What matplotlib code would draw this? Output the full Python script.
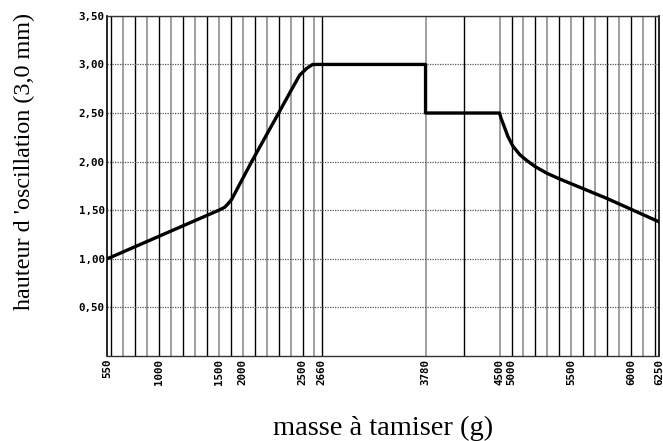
import numpy as np
import matplotlib
matplotlib.use("Agg")
import matplotlib.pyplot as plt

# --- DATA ---
# gram values printed under the x axis
tick_grams = [550, 1000, 1500, 2000, 2500, 2660, 3780, 4500, 5000, 5500, 6000, 6250]
# oscillation height (mm) against mass to sieve (g)
mass_g = [550, 1500, 1620, 1680, 1765, 2074, 2300, 2412, 2476, 2535, 2585,
          3780, 3780, 4500, 4555, 4680, 4845, 5011, 5070, 5129, 5196, 5296, 5405,
          5800, 6250]
height_mm = [1.00, 1.50, 1.53, 1.56, 1.61, 2.00, 2.50, 2.75, 2.89, 2.96, 3.00,
             3.00, 2.50, 2.50, 2.45, 2.37, 2.26, 2.16, 2.07, 2.01, 1.95, 1.88, 1.82,
             1.62, 1.38]
y_ticks = [0.5, 1.0, 1.5, 2.0, 2.5, 3.0, 3.5]

# --- AXIS LAYOUT ---
# the printed scale is not linear in grams: each labelled mass sits at its
# own place on the sheet (units = grid spacing)
tick_place = [-0.34, 4.0, 9.0, 11.0, 16.0, 17.6, 26.3, 32.5, 33.5, 38.5, 43.5, 45.85]
grid_place = list(range(0, 18)) + [17.6, 26.3, 29.5] + list(np.arange(32.5, 46.0, 1.0))


def to_sheet(g):
    return np.interp(g, tick_grams, tick_place)


def to_grams(p):
    return np.interp(p, tick_place, tick_grams)


fig = plt.figure(figsize=(6.63, 4.41), dpi=100)
ax = fig.add_axes([0.162, 0.193, 0.832, 0.771])
ax.set_xscale('function', functions=(to_sheet, to_grams))
ax.set_xlim(550, 6250)
ax.set_ylim(0, 3.5)

# vertical grid, alternating black and grey strokes
for i, p in enumerate(grid_place):
    if i % 2 == 0:
        ax.axvline(to_grams(p), color='black', linewidth=1.0, zorder=1)
    else:
        ax.axvline(to_grams(p), color='#999999', linewidth=1.3, zorder=1)

# dotted horizontal grid
for v in y_ticks:
    ax.axhline(v, color='#555555', linewidth=0.9, linestyle=(0, (1, 1)), zorder=1)

ax.plot(mass_g, height_mm, color='black', linewidth=2.4,
        solid_joinstyle='round', solid_capstyle='round', zorder=3)

ax.set_xticks(tick_grams)
ax.set_xticklabels([str(g) for g in tick_grams], rotation=90,
                   family='DejaVu Sans Mono', fontweight='bold', fontsize=7.8)
ax.set_yticks(y_ticks)
ax.set_yticklabels([f"{v:.2f}".replace('.', ',') for v in y_ticks],
                   family='DejaVu Sans Mono', fontweight='bold', fontsize=7.8)
ax.tick_params(length=0, pad=2)
ax.xaxis.set_minor_locator(plt.NullLocator())

for side in ['top', 'bottom']:
    ax.spines[side].set_linestyle((0, (1, 1)))
    ax.spines[side].set_linewidth(1.0)
    ax.spines[side].set_color('#333333')
ax.spines['left'].set_linewidth(1.2)
ax.spines['right'].set_linewidth(1.2)

fig.text(383 / 663, 1 - 428 / 441, "masse à tamiser (g)", family='Liberation Serif',
         fontsize=20.5, ha='center', va='center')
fig.text(24 / 663, 1 - 161 / 441, "hauteur d 'oscillation (3,0 mm)", family='Liberation Serif',
         fontsize=17.4, ha='center', va='center', rotation=90)

fig.savefig("out.png", dpi=100)
